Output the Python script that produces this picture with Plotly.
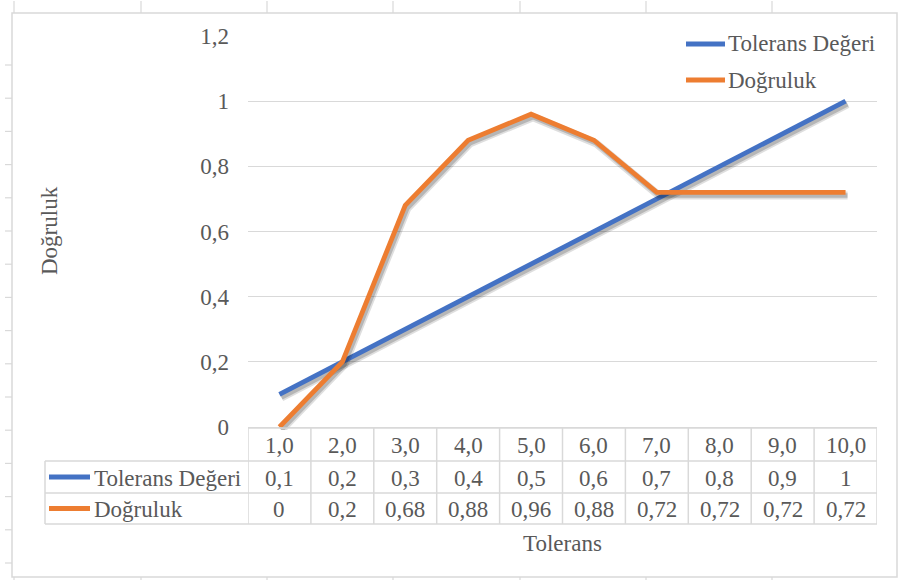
import plotly.graph_objects as go

# ---- data -------------------------------------------------------------
tolerans = ["1,0", "2,0", "3,0", "4,0", "5,0", "6,0", "7,0", "8,0", "9,0", "10,0"]
tolerans_degeri = [0.1, 0.2, 0.3, 0.4, 0.5, 0.6, 0.7, 0.8, 0.9, 1.0]
dogruluk = [0, 0.2, 0.68, 0.88, 0.96, 0.88, 0.72, 0.72, 0.72, 0.72]
series_names = ["Tolerans Değeri", "Doğruluk"]

# ---- styling ----------------------------------------------------------
W, H = 898, 581
BLUE = "#4472C4"
ORANGE = "#ED7D31"
TEXT = "#595959"
GRID = "#d9d9d9"
FONT = "Liberation Serif, Times New Roman, serif"
FS = 23


def px(x):
    return x / W


def py(y):
    return 1 - y / H


# plot area in pixels
L, R, T, B = 248, 877, 36, 427
SHADOW_DX, SHADOW_DY = 2, 3


def fmt(v):
    s = ("%g" % v)
    return s.replace(".", ",")


fig = go.Figure()

series = [(tolerans_degeri, BLUE), (dogruluk, ORANGE)]
axis_idx = 2
for vals, color in series:
    # soft drop shadow (drawn on a slightly offset copy of the axes)
    fig.add_trace(go.Scatter(
        x=tolerans, y=vals, mode="lines",
        line=dict(color="rgba(0,0,0,0.13)", width=8),
        xaxis="x%d" % axis_idx, yaxis="y%d" % axis_idx,
        hoverinfo="skip", showlegend=False))
    fig.add_trace(go.Scatter(
        x=tolerans, y=vals, mode="lines",
        line=dict(color="rgba(0,0,0,0.18)", width=4.5),
        xaxis="x%d" % axis_idx, yaxis="y%d" % axis_idx,
        hoverinfo="skip", showlegend=False))
    fig.add_trace(go.Scatter(
        x=tolerans, y=vals, mode="lines",
        line=dict(color=color, width=4.8),
        xaxis="x%d" % (axis_idx + 1), yaxis="y%d" % (axis_idx + 1),
        showlegend=False))
    axis_idx += 2

xbase = dict(type="category", range=[-0.5, len(tolerans) - 0.5],
             showticklabels=False, showgrid=False, showline=False,
             zeroline=False, ticks="", automargin=False)
ybase = dict(range=[0, 1.2], dtick=0.2, showline=False, automargin=False)

layout = dict(
    width=W, height=H, autosize=False,
    margin=dict(l=0, r=0, t=0, b=0, pad=0, autoexpand=False),
    paper_bgcolor="white",
    plot_bgcolor="rgba(0,0,0,0)",
    separators=",.",
    font=dict(family=FONT, size=FS, color=TEXT),
    showlegend=False,
    xaxis=dict(xbase, domain=[px(L), px(R)], anchor="y"),
    yaxis=dict(ybase, domain=[py(B), py(T)], anchor="x",
               showgrid=True, gridcolor=GRID, gridwidth=1,
               zeroline=True, zerolinecolor=GRID, zerolinewidth=1,
               ticks="", ticklabelstandoff=18,
               tickfont=dict(family=FONT, size=FS, color=TEXT)),
)
for i in range(2, axis_idx):
    shadow = (i % 2 == 0)
    dx = SHADOW_DX if shadow else 0
    dy = SHADOW_DY if shadow else 0
    layout["xaxis%d" % i] = dict(xbase, domain=[px(L + dx), px(R + dx)],
                                 anchor="y%d" % i, visible=False)
    layout["yaxis%d" % i] = dict(ybase, domain=[py(B + dy), py(T + dy)],
                                 anchor="x%d" % i, visible=False,
                                 showgrid=False, zeroline=False)
fig.update_layout(**layout)

shapes = []
annotations = []

# ---- chart frame and surrounding sheet grid ---------------------------
shapes.append(dict(type="rect", xref="paper", yref="paper",
                   x0=px(12), x1=px(897), y0=py(577), y1=py(13),
                   line=dict(color=GRID, width=1.5)))
y = 65
while y < H - 10:
    shapes.append(dict(type="line", xref="paper", yref="paper",
                       x0=px(5), x1=px(12), y0=py(y), y1=py(y),
                       line=dict(color=GRID, width=1.2)))
    y += 33.2
for xg in [14, 141, 267, 393, 520, 646, 772]:
    shapes.append(dict(type="line", xref="paper", yref="paper",
                       x0=px(xg), x1=px(xg), y0=py(1), y1=py(13),
                       line=dict(color=GRID, width=1.2)))
    shapes.append(dict(type="line", xref="paper", yref="paper",
                       x0=px(xg), x1=px(xg), y0=py(577), y1=py(580),
                       line=dict(color=GRID, width=1.2)))

# ---- data table under the plot ----------------------------------------
ROW_TOP = [428, 461, 493]
ROW_BOT = 524
KEY_L = 45
n = len(tolerans)
# horizontal rules
shapes.append(dict(type="line", xref="paper", yref="paper",
                   x0=px(L), x1=px(R), y0=py(ROW_TOP[0]), y1=py(ROW_TOP[0]),
                   line=dict(color=GRID, width=1.5)))
for yy in ROW_TOP[1:] + [ROW_BOT]:
    shapes.append(dict(type="line", xref="paper", yref="paper",
                       x0=px(KEY_L), x1=px(R), y0=py(yy), y1=py(yy),
                       line=dict(color=GRID, width=1.5)))
# vertical rules at category boundaries
for i in range(n + 1):
    shapes.append(dict(type="line", xref="x", yref="paper",
                       x0=i - 0.5, x1=i - 0.5, y0=py(ROW_TOP[0]), y1=py(ROW_BOT),
                       line=dict(color=GRID, width=1.5)))
shapes.append(dict(type="line", xref="paper", yref="paper",
                   x0=px(KEY_L), x1=px(KEY_L), y0=py(ROW_TOP[1]), y1=py(ROW_BOT),
                   line=dict(color=GRID, width=1.5)))

row_centers = [(ROW_TOP[0] + ROW_TOP[1]) / 2 + 1,
               (ROW_TOP[1] + ROW_TOP[2]) / 2 + 1,
               (ROW_TOP[2] + ROW_BOT) / 2 + 1]

for i, cat in enumerate(tolerans):
    annotations.append(dict(x=i, xref="x", y=py(row_centers[0]), yref="paper",
                            text=cat, showarrow=False, xanchor="center",
                            yanchor="middle"))
    annotations.append(dict(x=i, xref="x", y=py(row_centers[1]), yref="paper",
                            text=fmt(tolerans_degeri[i]), showarrow=False,
                            xanchor="center", yanchor="middle"))
    annotations.append(dict(x=i, xref="x", y=py(row_centers[2]), yref="paper",
                            text=fmt(dogruluk[i]), showarrow=False,
                            xanchor="center", yanchor="middle"))

# row keys in the table
for (name, (_, color)), yc in zip(zip(series_names, series), row_centers[1:]):
    shapes.append(dict(type="line", xref="paper", yref="paper",
                       x0=px(49), x1=px(90), y0=py(yc - 1), y1=py(yc - 1),
                       line=dict(color=color, width=4.8)))
    annotations.append(dict(x=px(92), xref="paper", y=py(yc), yref="paper",
                            text=name, showarrow=False, xanchor="left",
                            yanchor="middle"))

# ---- legend (top right) -----------------------------------------------
for (name, (_, color)), yc in zip(zip(series_names, series), [44, 80]):
    shapes.append(dict(type="line", xref="paper", yref="paper",
                       x0=px(686), x1=px(725), y0=py(yc), y1=py(yc),
                       line=dict(color=color, width=4.8)))
    annotations.append(dict(x=px(726), xref="paper", y=py(yc), yref="paper",
                            text=name, showarrow=False, xanchor="left",
                            yanchor="middle"))

# ---- axis titles ------------------------------------------------------
annotations.append(dict(x=px((L + R) / 2), xref="paper", y=py(543), yref="paper",
                        text="Tolerans", showarrow=False, xanchor="center",
                        yanchor="middle"))
annotations.append(dict(x=px(49), xref="paper", y=py(231), yref="paper",
                        text="Doğruluk", textangle=-90, showarrow=False,
                        xanchor="center", yanchor="middle"))

fig.update_layout(shapes=shapes, annotations=annotations)
fig.write_html("out.html")
